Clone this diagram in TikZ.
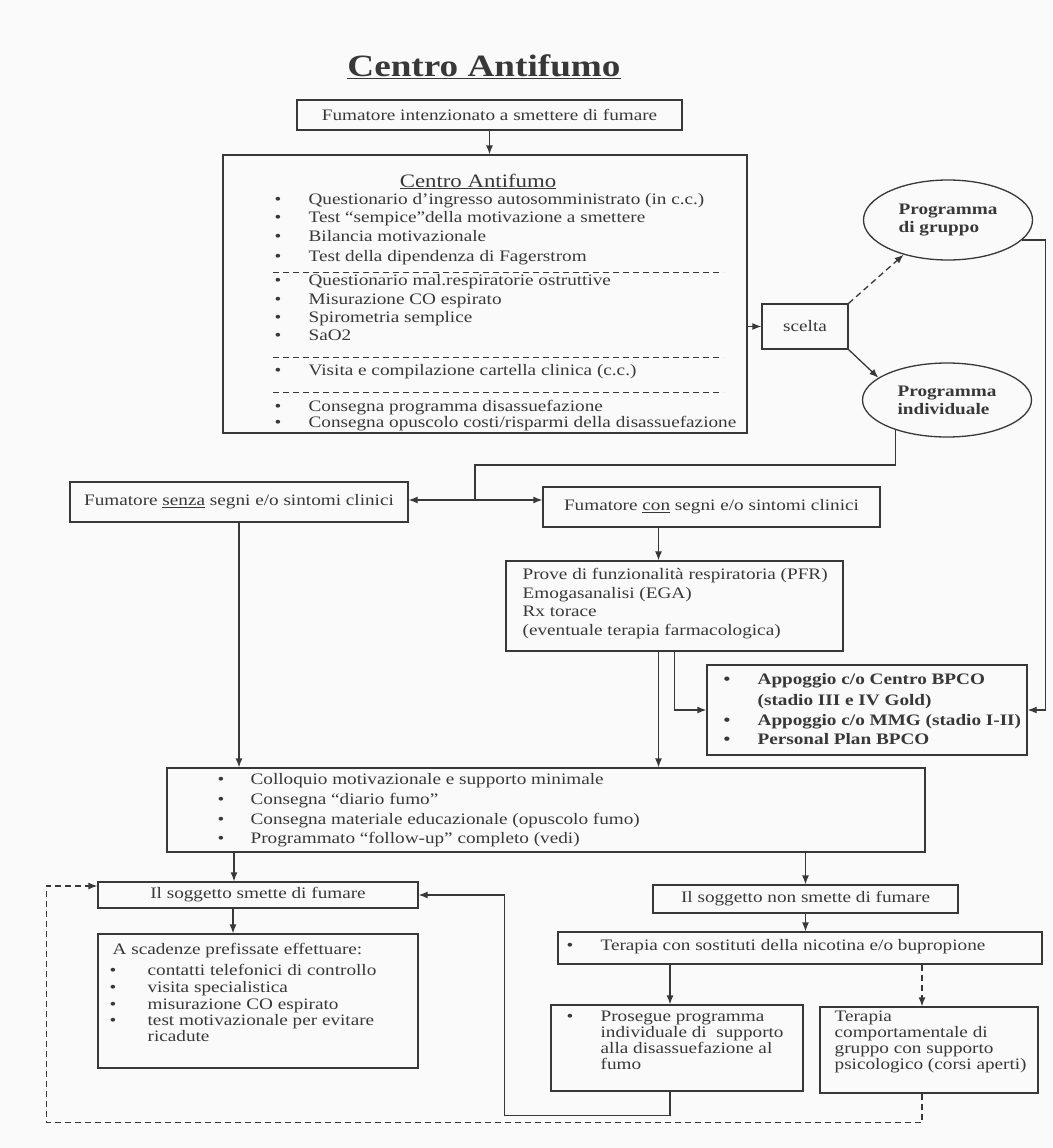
\documentclass[tikz,border=0pt]{standalone}
\usepackage{fontspec}
\setmainfont{Liberation Serif}[FakeStretch=1.2]
\usetikzlibrary{arrows.meta,shapes.geometric,fit}

\definecolor{ink}{gray}{0.22}
\newcommand{\bul}[2][34pt]{\makebox[#1][l]{\textbullet}#2}

\begin{document}
\begin{tikzpicture}[x=1pt,y=-1pt,color=ink,line width=1.3pt,
	>={Latex[length=9pt,width=7pt]},
	every node/.style={font=\fontsize{16}{16}\selectfont},
	box/.style={draw,inner sep=0pt},
	riga/.style={inner sep=0pt,anchor=mid west},
	grassetto/.style={riga,font=\fontsize{16}{16}\selectfont\bfseries},
	cerchio/.style={ellipse,draw,inner sep=0pt,align=left,font=\fontsize{16}{18}\selectfont\bfseries},
	tratt/.style={dash pattern=on 6pt off 4pt}]
	\fill[black!2] (0,0) rectangle (1052,1148);

	\node[anchor=base,font=\fontsize{31}{34}\selectfont\bfseries] (titolo) at (484,76) {\underline{Centro Antifumo}};
	\node[box,minimum width=385pt,minimum height=30pt] (fum) at (489.5,115) {Fumatore intenzionato a smettere di fumare};

	% centro antifumo
	\node[box,fit={(223,155) (747,433)}] (centro) {};
	\node[anchor=base,font=\fontsize{19}{20}\selectfont] (centroT) at (478,187) {\underline{Centro Antifumo}};
	\foreach \t/\y [count=\i] in {{Questionario d’ingresso autosomministrato (in c.c.)}/202,
		{Test “sempice”della motivazione a smettere}/220,
		{Bilancia motivazionale}/239,
		{Test della dipendenza di Fagerstrom}/259,
		{Questionario mal.respiratorie ostruttive}/283,
		{Misurazione CO espirato}/302,
		{Spirometria semplice}/320,
		{SaO2}/338,
		{Visita e compilazione cartella clinica (c.c.)}/373,
		{Consegna programma disassuefazione}/409,
		{Consegna opuscolo costi/risparmi della disassuefazione}/425}
		\node[riga] (ca\i) at (274,\y) {\bul{\t}};
	\foreach \y in {272,357,392}
		\draw[line width=1pt,tratt] (273,\y) -- (723,\y);

	\node[box,minimum width=86pt,minimum height=45pt] (scelta) at (805,326.5) {scelta};
	\node[cerchio,minimum width=169pt,minimum height=80pt] (grp) at (948,220) {Programma\\di gruppo};
	\node[cerchio,minimum width=169pt,minimum height=74pt] (ind) at (947,400) {Programma\\individuale};

	\draw[->] (fum.south) -- (fum.south |- centro.north);
	\draw[->] (centro.east |- scelta.west) -- (scelta.west);
	\draw[->,tratt] (scelta.north east) -- (grp.218);
	\draw[->] (scelta.south east) -- (ind.162);

	% senza / con
	\node[box,minimum width=338pt,minimum height=40pt] (senza) at (239,502) {Fumatore \underline{senza} segni e/o sintomi clinici};
	\node[box,minimum width=337pt,minimum height=40pt] (con) at (711.5,507) {Fumatore \underline{con} segni e/o sintomi clinici};
	\coordinate (snodo) at (475,500);
	\draw (ind.-150) -- (ind.-150 |- 0,465) -| (snodo);
	\draw[<->] (senza.east |- snodo) -- (con.west |- snodo);

	\node[box,fit={(506,561) (843,651)}] (pfr) {};
	\foreach \t/\y [count=\i] in {{Prove di funzionalità respiratoria (PFR)}/577,
		{Emogasanalisi (EGA)}/596,
		{Rx torace}/614,
		{(eventuale terapia farmacologica)}/633}
		\node[riga] (pf\i) at (522,\y) {\t};
	\coordinate (pfrL) at ([xshift=-16pt]pfr.south);
	\draw[->] (con.south -| pfrL) -- (pfr.north -| pfrL);

	\node[box,fit={(707,665) (1027,755)}] (appo) {};
	\node[grassetto] (ap1) at (723,682) {\bul{Appoggio c/o Centro BPCO}};
	\node[grassetto] (ap2) at (757,703) {(stadio III e IV Gold)};
	\node[grassetto] (ap3) at (723,723) {\bul{Appoggio c/o MMG (stadio I-II)}};
	\node[grassetto] (ap4) at (723,742) {\bul{Personal Plan BPCO}};
	\draw[->] (pfr.south) |- (appo.west);
	\draw[->] (grp.-15) -| ([xshift=18pt]appo.east) -- (appo.east);

	% colloquio
	\node[box,fit={(167,768) (925,852)}] (mid) {};
	\foreach \t/\y [count=\i] in {{Colloquio motivazionale e supporto minimale}/782,
		{Consegna “diario fumo”}/802,
		{Consegna materiale educazionale (opuscolo fumo)}/822,
		{Programmato “follow-up” completo (vedi)}/841}
		\node[riga] (co\i) at (217,\y) {\bul[33pt]{\t}};
	\draw[->] (senza.south) -- (senza.south |- mid.north);
	\draw[->] (pfrL) -- (pfrL |- mid.north);

	% smette
	\node[box,minimum width=320pt,minimum height=26pt] (sm) at (258,895) {Il soggetto smette di fumare};
	\draw[->] (mid.south -| 234,0) -- (sm.north -| 234,0);
	\node[box,fit={(98,934) (418,1068)}] (scad) {};
	\node[riga] (sc0) at (112,952) {A scadenze prefissate effettuare:};
	\foreach \t/\y [count=\i] in {{contatti telefonici di controllo}/973,
		{visita specialistica}/990,
		{misurazione CO espirato}/1007,
		{test motivazionale per evitare}/1023}
		\node[riga] (sc\i) at (109,\y) {\bul[38pt]{\t}};
	\node[riga] (sc5) at (147,1039) {ricadute};
	\draw[->] (sm.south -| 233,0) -- (scad.north -| 233,0);

	% non smette
	\node[box,minimum width=305pt,minimum height=28pt] (nosm) at (805.5,899) {Il soggetto non smette di fumare};
	\draw[->] (mid.south -| nosm.north) -- (nosm.north);
	\node[box,fit={(558,932) (1042,964)}] (ter) {};
	\node[riga] (te1) at (566,948) {\bul{Terapia con sostituti della nicotina e/o bupropione}};
	\draw[->] (nosm.south) -- (nosm.south |- ter.north);

	\node[box,fit={(551,1005) (803,1091)}] (pros) {};
	\node[riga] (pr1) at (566,1019) {\bul{Prosegue programma}};
	\node[riga] (pr2) at (600,1035) {individuale di \ supporto};
	\node[riga] (pr3) at (600,1051) {alla disassuefazione al};
	\node[riga] (pr4) at (600,1067) {fumo};

	\node[box,fit={(820,1007) (1038,1093)}] (comp) {};
	\foreach \t/\y [count=\i] in {{Terapia}/1019,
		{comportamentale di}/1035,
		{gruppo con supporto}/1051,
		{psicologico (corsi aperti)}/1067}
		\node[riga] (cp\i) at (834,\y) {\t};

	\draw[->] (ter.south -| 670,0) -- (pros.north -| 670,0);
	\draw[->,tratt] (ter.south -| 922,0) -- (comp.north -| 922,0);
	\draw[->] (pros.south -| 670,0) -- ++(0,24) -| ([xshift=86pt]sm.east) -- (sm.east);
	\coordinate (smw) at ([yshift=9pt]sm.west);
	\draw[->,tratt] (comp.south -| 922,0) -- ++(0,29) -| ([xshift=-51pt]smw) -- (smw);
\end{tikzpicture}
\end{document}
